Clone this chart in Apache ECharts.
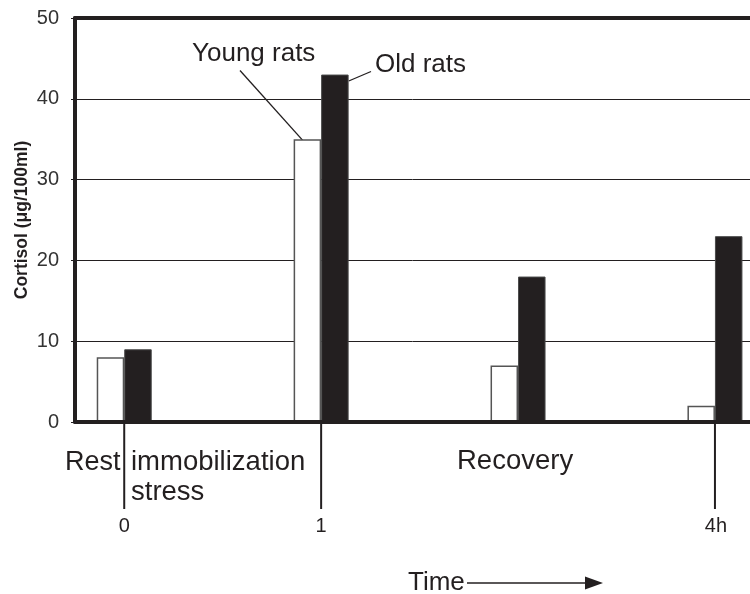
<!DOCTYPE html>
<html>
<head>
<meta charset="utf-8">
<script src="https://cdn.jsdelivr.net/npm/echarts@6/dist/echarts.min.js"></script>
<style>
  html, body { margin: 0; padding: 0; background: #fff; }
  #chart { width: 750px; height: 594px; }
</style>
</head>
<body>
<div id="chart"></div>
<script>
// ---- data ----
var timePoints = [0, 1, 2, 3];            // group positions along the time axis
var timeTickLabels = ['0', '1', '', '4h'];
var youngRats = [8, 35, 7, 2];
var oldRats = [9, 43, 18, 23];
var yTicks = [0, 10, 20, 30, 40, 50];
var seriesNames = ['Young rats', 'Old rats'];
var yAxisTitle = 'Cortisol (\u03bcg/100ml)';
var phaseLabels = ['Rest', 'immobilization', 'stress', 'Recovery'];
var xAxisTitle = 'Time';

var INK = '#231f20';
var FONT = '"Liberation Sans", Arial, Helvetica, sans-serif';

function pairs(vals) {
  return timePoints.map(function (t, i) { return [t, vals[i]]; });
}

var chart = echarts.init(document.getElementById('chart'), null, { renderer: 'canvas' });

chart.setOption({
  animation: false,
  backgroundColor: '#fff',
  grid: { left: 75, right: 0, top: 18, bottom: 172, containLabel: false, outerBoundsMode: 'none' },
  xAxis: [{
    type: 'value', min: -0.25, max: 3.178,
    z: 5,
    axisLine: { show: true, onZero: false, lineStyle: { color: INK, width: 4 } },
    axisTick: { show: false }, axisLabel: { show: false }, splitLine: { show: false }
  }, {
    type: 'value', min: -0.25, max: 3.178, position: 'top',
    axisLine: { show: true, onZero: false, lineStyle: { color: INK, width: 4 } },
    axisTick: { show: false }, axisLabel: { show: false }, splitLine: { show: false }
  }],
  yAxis: {
    type: 'value', min: yTicks[0], max: yTicks[yTicks.length - 1], interval: 10,
    name: yAxisTitle, nameLocation: 'middle', nameRotate: 90, nameGap: 44,
    nameMoveOverlap: false,
    nameTextStyle: { fontFamily: FONT, fontWeight: 'bold', fontSize: 17.5, color: INK },
    axisLine: { show: true, onZero: false, lineStyle: { color: INK, width: 4 } },
    axisTick: { show: true, length: 4, lineStyle: { color: INK, width: 1 } },
    axisLabel: { fontFamily: FONT, fontSize: 20, color: '#333', margin: 16 },
    splitLine: { show: true, lineStyle: { color: INK, width: 1 } }
  },
  series: [{
    name: seriesNames[0], type: 'bar', data: pairs(youngRats),
    barWidth: 27.5, barGap: '0%',
    itemStyle: { color: '#ffffff', borderColor: '#555', borderWidth: 1.5 }
  }, {
    name: seriesNames[1], type: 'bar', data: pairs(oldRats),
    barWidth: 27.5, barGap: '0%',
    itemStyle: { color: INK, borderColor: '#4a4a4a', borderWidth: 1 }
  }]
});

function px(x, y) { return chart.convertToPixel({ xAxisIndex: 0, yAxisIndex: 0 }, [x, y]); }

var graphics = [];
function txt(s, x, y, size, align) {
  graphics.push({
    type: 'text', x: x, y: y, silent: true,
    style: { text: s, fill: INK, font: size + 'px ' + FONT, textAlign: align || 'left', textVerticalAlign: 'bottom' }
  });
}
function seg(x1, y1, x2, y2, w) {
  graphics.push({
    type: 'line', silent: true,
    shape: { x1: x1, y1: y1, x2: x2, y2: y2 },
    style: { stroke: INK, lineWidth: w }
  });
}

// time markers below the axis
var baseY = px(0, 0)[1];
timePoints.forEach(function (t, i) {
  if (!timeTickLabels[i]) return;
  var p = px(t, 0);
  seg(p[0], baseY, p[0], 509, 2);
  txt(timeTickLabels[i], p[0] + (timeTickLabels[i] === '4h' ? 1 : 0), 536, 20, 'center');
});

// phase labels
txt(phaseLabels[0], 65, 476, 27);
txt(phaseLabels[1], 131, 476, 27.5);
txt(phaseLabels[2], 131, 506, 27.5);
txt(phaseLabels[3], 457, 475, 27.5);

// series annotations with leader lines
txt(seriesNames[0], 192, 67, 26);
var yEnd = px(0.975, 33);
seg(240, 70.5, yEnd[0], yEnd[1], 1.3);
txt(seriesNames[1], 375, 78, 26);
var oStart = px(1.14, 42.2);
seg(oStart[0], oStart[1], 371, 71.5, 1.3);

// Time arrow
txt(xAxisTitle, 408, 596, 26);
seg(467, 583, 590, 583, 1.5);
graphics.push({
  type: 'polygon', silent: true,
  shape: { points: [[585, 576.5], [603, 583], [585, 589.5]] },
  style: { fill: INK }
});

chart.setOption({ graphic: graphics });
</script>
</body>
</html>
